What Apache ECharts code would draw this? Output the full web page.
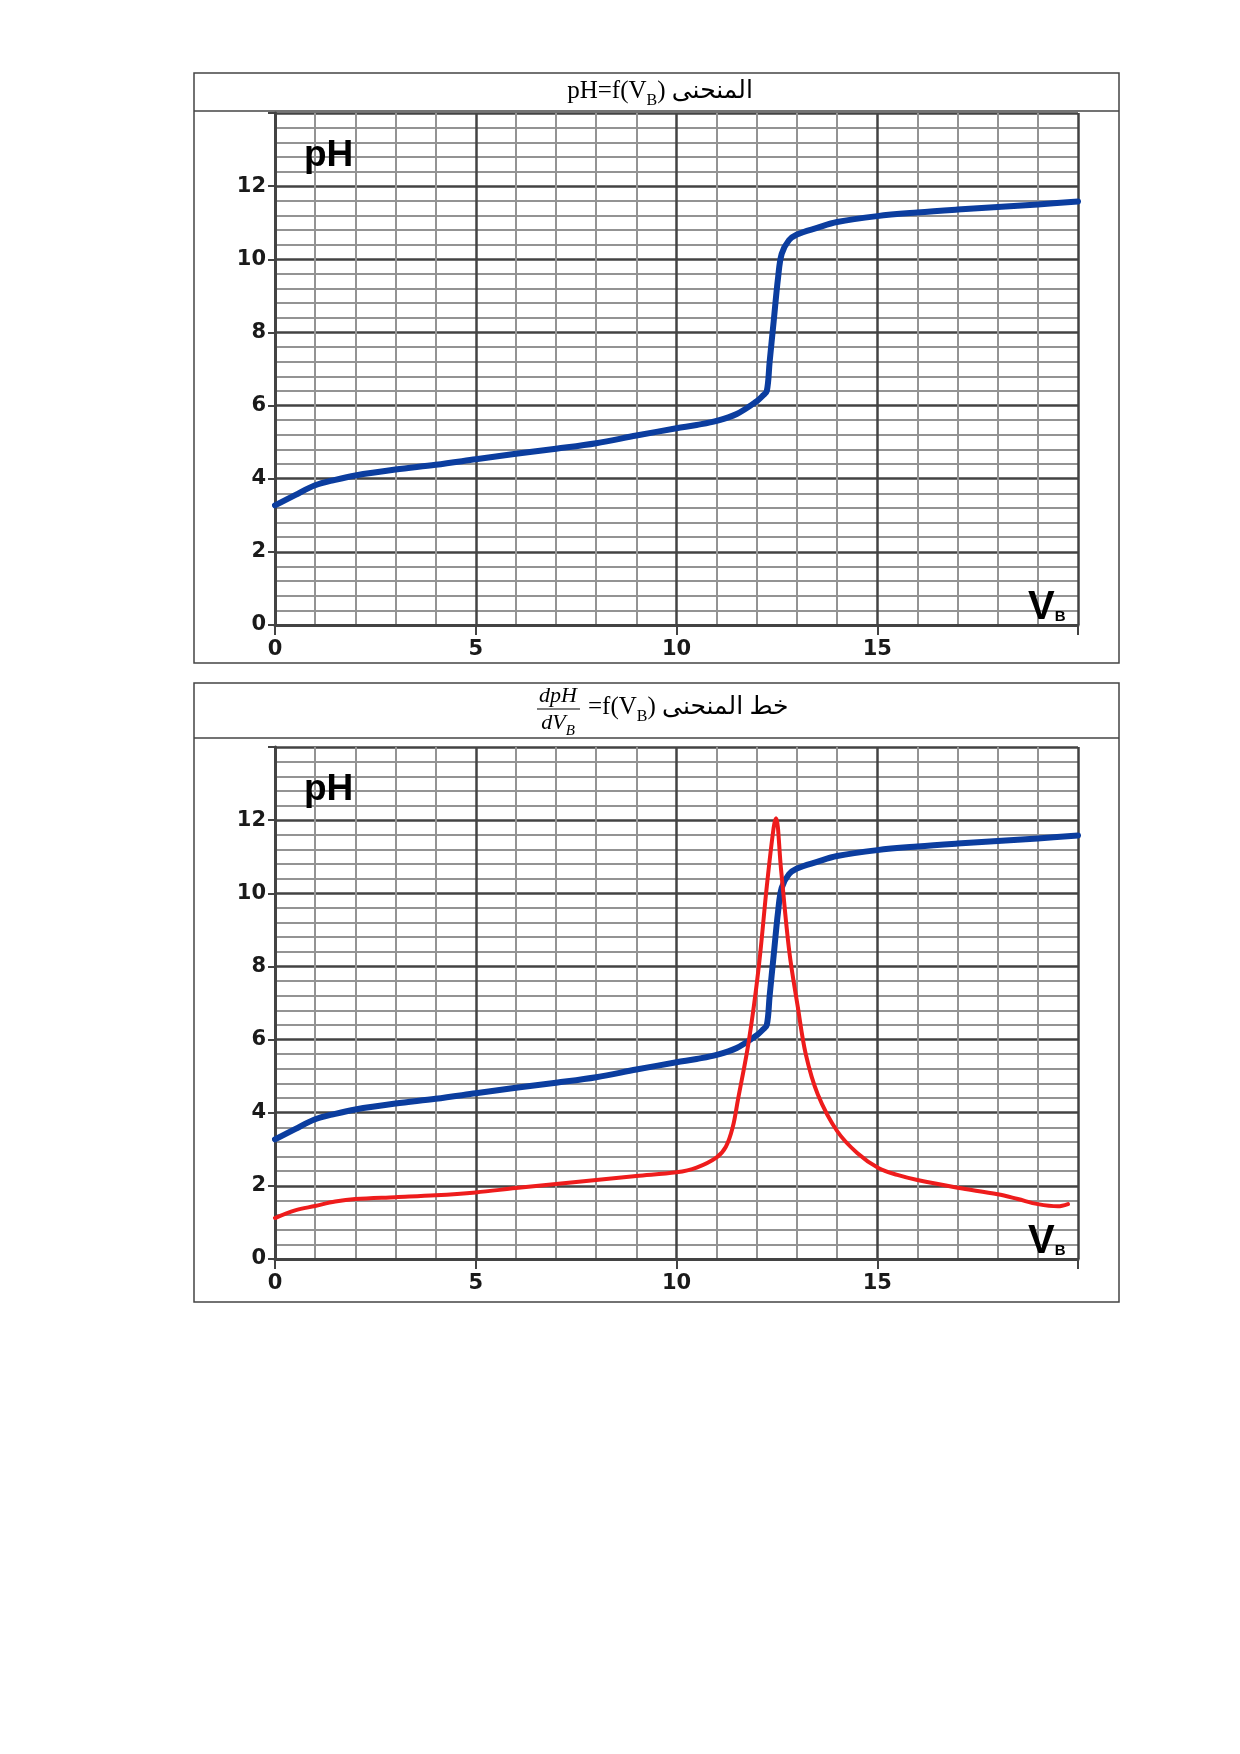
<!DOCTYPE html>
<html>
<head>
<meta charset="utf-8">
<title>pH = f(VB)</title>
<script src="https://cdn.jsdelivr.net/npm/echarts@6.0.0/dist/echarts.min.js"></script>
<style>
  html, body { margin: 0; padding: 0; background: #fff; }
  #chart { width: 1240px; height: 1754px; }
</style>
</head>
<body>
<div id="chart"></div>
<script>
// titration curve: volume of base added and measured pH
var vb = [0, 0.5, 1, 1.5, 2, 3, 4, 5, 6, 7, 8, 9, 10, 10.5, 11, 11.5, 12, 12.15, 12.25, 12.32,
          12.42, 12.53, 12.62, 12.8, 13, 13.5, 14, 15, 16, 17, 18, 19, 20];
var ph = [3.27, 3.55, 3.82, 3.97, 4.09, 4.25, 4.38, 4.53, 4.68, 4.82, 4.97, 5.18, 5.38, 5.47, 5.58,
          5.77, 6.12, 6.27, 6.4, 7.2, 8.3, 9.5, 10.15, 10.52, 10.68, 10.86, 11.02, 11.18, 11.28,
          11.36, 11.43, 11.5, 11.58];

// derivative dpH/dVB
var vbD = [0, 0.5, 1, 1.5, 2, 3, 4, 5, 6, 7, 8, 9, 10, 10.5, 11, 11.23, 11.4, 11.53, 11.8, 12.05,
           12.25, 12.42, 12.48, 12.6, 12.81, 13.02, 13.22, 13.52, 14, 14.5, 15.04, 15.5, 16, 17, 18,
           18.5, 19, 19.5, 19.75];
var dph = [1.12, 1.33, 1.45, 1.57, 1.64, 1.69, 1.74, 1.82, 1.94, 2.05, 2.16, 2.27, 2.37, 2.5, 2.78,
           3.07, 3.6, 4.35, 5.95, 8.0, 10.2, 11.8, 12.05, 10.7, 8.4, 6.9, 5.6, 4.5, 3.5, 2.9, 2.48,
           2.3, 2.16, 1.95, 1.77, 1.64, 1.5, 1.44, 1.5];

var xLabels = [0, 5, 10, 15];
var yLabels = [0, 2, 4, 6, 8, 10, 12];

// page layout
var boxL = 194, boxR = 1119;
var gridL = 275, gridW = 803, gridH = 512;
var panels = [
  { top: 73, sep: 111, bottom: 663, grid: 113 },
  { top: 683, sep: 738, bottom: 1302, grid: 747 }
];

var BLUE = '#0b3d9f', RED = '#ee1c1c';
var DARK = '#434343', LIGHT = '#939393';

function pairs(xs, ys) {
  var out = [];
  for (var i = 0; i < xs.length; i++) out.push([xs[i], ys[i]]);
  return out;
}

var ctx = document.createElement('canvas').getContext('2d');
function fontStr(p) {
  return (p.italic ? 'italic ' : '') + (p.bold ? 'bold ' : '') + p.size + 'px ' + p.family;
}
function measure(p) {
  ctx.font = fontStr(p);
  return ctx.measureText(p.text).width;
}

// a row of text pieces sitting on one baseline, starting at x
function textRow(pieces, x, baseline) {
  var els = [];
  pieces.forEach(function (p) {
    var w = measure(p);
    var base = baseline + (p.dy || 0);
    els.push({
      type: 'text',
      z: 100,
      x: x,
      y: base - 0.34 * p.size,
      style: {
        text: p.text,
        fontSize: p.size,
        fontFamily: p.family,
        fontStyle: p.italic ? 'italic' : 'normal',
        fontWeight: p.bold ? 'bold' : 'normal',
        fill: '#000',
        align: 'left',
        verticalAlign: 'middle'
      }
    });
    x += w;
  });
  return els;
}
function rowWidth(pieces) {
  return pieces.reduce(function (s, p) { return s + measure(p); }, 0);
}

var SERIF = "'Liberation Serif', 'DejaVu Serif'";
var ARAB = "'Liberation Serif', 'DejaVu Sans'";
var SANS = "'Liberation Sans', Arial";

var graphics = [];

panels.forEach(function (pn) {
  graphics.push({
    type: 'rect',
    shape: { x: boxL, y: pn.top, width: boxR - boxL, height: pn.bottom - pn.top },
    style: { fill: null, stroke: '#444', lineWidth: 1.5 }
  });
  graphics.push({
    type: 'line',
    shape: { x1: boxL, y1: pn.sep, x2: boxR, y2: pn.sep },
    style: { stroke: '#444', lineWidth: 1.5 }
  });
  // pH and VB labels inside the plot
  graphics = graphics.concat(textRow([
    { text: 'pH', size: 37, family: SANS, bold: true }
  ], gridL + 29, pn.grid + 55));
  graphics = graphics.concat(textRow([
    { text: 'V', size: 40, family: SANS, bold: true },
    { text: 'B', size: 15, family: SANS, bold: true }
  ], gridL + 753, pn.grid + gridH - 3));
});

// title 1
var t1 = [
  { text: 'pH=f(V', size: 25, family: SERIF },
  { text: 'B', size: 16, family: SERIF, dy: 6 },
  { text: ') ', size: 25, family: SERIF },
  { text: 'المنحنى', size: 25, family: ARAB }
];
graphics = graphics.concat(textRow(t1, 660 - rowWidth(t1) / 2, 100));

// title 2: fraction dpH / dVB then the rest
var num = [{ text: 'dpH', size: 22, family: SERIF, italic: true }];
var den = [
  { text: 'dV', size: 22, family: SERIF, italic: true },
  { text: 'B', size: 15, family: SERIF, italic: true, dy: 5 }
];
graphics = graphics.concat(textRow(num, 558 - rowWidth(num) / 2, 704));
graphics.push({
  type: 'line',
  shape: { x1: 537, y1: 709, x2: 580, y2: 709 },
  style: { stroke: '#000', lineWidth: 1.2 }
});
graphics = graphics.concat(textRow(den, 558 - rowWidth(den) / 2, 731));
graphics = graphics.concat(textRow([
  { text: '=f(V', size: 25, family: SERIF },
  { text: 'B', size: 16, family: SERIF, dy: 6 },
  { text: ') ', size: 25, family: SERIF },
  { text: 'خط المنحنى', size: 25, family: ARAB }
], 588, 716));

function xAxisFor(i) {
  return {
    type: 'value', gridIndex: i, min: 0, max: 20, interval: 5,
    axisLine: { onZero: false, lineStyle: { color: DARK, width: 3 } },
    axisTick: { length: 10, lineStyle: { color: DARK, width: 2 } },
    axisLabel: {
      margin: 14, fontFamily: 'DejaVu Sans', fontWeight: 'bold', fontSize: 21, color: '#1a1a1a',
      formatter: function (v) { return xLabels.indexOf(v) >= 0 ? String(v) : ''; }
    },
    splitLine: { show: true, lineStyle: { color: DARK, width: 2.5 } },
    minorTick: { show: false, splitNumber: 5 },
    minorSplitLine: { show: true, lineStyle: { color: LIGHT, width: 2 } }
  };
}
function yAxisFor(i) {
  return {
    type: 'value', gridIndex: i, min: 0, max: 14, interval: 2,
    axisLine: { onZero: false, lineStyle: { color: DARK, width: 3 } },
    axisTick: { length: 7, lineStyle: { color: DARK, width: 2 } },
    axisLabel: {
      margin: 9, fontFamily: 'DejaVu Sans', fontWeight: 'bold', fontSize: 21, color: '#1a1a1a',
      formatter: function (v) { return yLabels.indexOf(v) >= 0 ? String(v) : ''; }
    },
    splitLine: { show: true, lineStyle: { color: DARK, width: 2.5 } },
    minorTick: { show: false, splitNumber: 5 },
    minorSplitLine: { show: true, lineStyle: { color: LIGHT, width: 2 } }
  };
}

function curve(i, xs, ys, color, width, z) {
  return {
    type: 'line', xAxisIndex: i, yAxisIndex: i,
    data: pairs(xs, ys),
    symbol: 'none', smooth: 0.35,
    lineStyle: { color: color, width: width, cap: 'round', join: 'round' },
    z: z
  };
}

var chart = echarts.init(document.getElementById('chart'));
chart.setOption({
  animation: false,
  backgroundColor: '#fff',
  grid: panels.map(function (pn) {
    return { left: gridL, top: pn.grid, width: gridW, height: gridH };
  }),
  xAxis: [xAxisFor(0), xAxisFor(1)],
  yAxis: [yAxisFor(0), yAxisFor(1)],
  series: [
    curve(0, vb, ph, BLUE, 6, 3),
    curve(1, vb, ph, BLUE, 6, 3),
    curve(1, vbD, dph, RED, 4, 4)
  ],
  graphic: graphics
});
</script>
</body>
</html>
